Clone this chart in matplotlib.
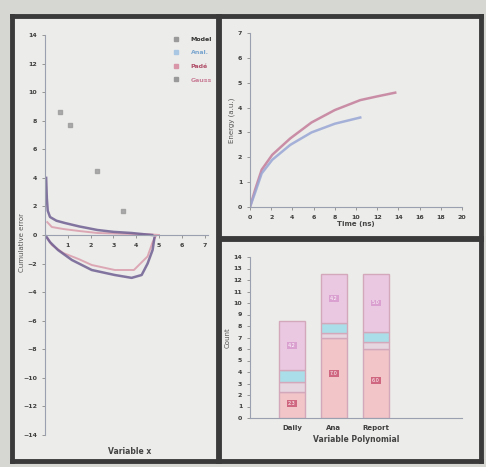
import numpy as np
import matplotlib
matplotlib.use('Agg')
from matplotlib import pyplot as plt
from matplotlib.ticker import MultipleLocator

# ---- left panel data ----
scatter_x = [0.65, 1.1, 2.26, 3.4]
scatter_y = [8.6, 7.7, 4.5, 1.7]

upper_purple_x = [0.05, 0.08, 0.12, 0.22, 0.5, 0.87, 1.5, 2.3, 3.0, 3.8, 4.3, 4.7]
upper_purple_y = [4.0, 2.6, 1.7, 1.26, 1.0, 0.84, 0.6, 0.35, 0.22, 0.14, 0.06, 0.0]
upper_pink_x = [0.1, 0.3, 0.8, 1.5, 2.3, 3.2, 4.0, 4.6, 5.0]
upper_pink_y = [0.9, 0.56, 0.42, 0.28, 0.14, 0.1, 0.06, 0.04, 0.0]

lower_purple_x = [0.05, 0.22, 0.57, 1.18, 2.05, 3.06, 3.8, 4.24, 4.5, 4.72, 4.8]
lower_purple_y = [-0.1, -0.5, -1.05, -1.75, -2.45, -2.8, -3.0, -2.8, -2.0, -1.05, -0.2]
lower_pink_x = [0.1, 0.3, 0.8, 1.5, 2.05, 3.06, 3.9, 4.5, 4.72, 4.85]
lower_pink_y = [-0.2, -0.7, -1.26, -1.7, -2.1, -2.45, -2.45, -1.5, -0.5, -0.1]

legend_labels = ["Model", "Anal.", "Padé", "Gauss"]

# ---- top right data ----
pink_t = [0, 0.47, 1.1, 2.1, 3.8, 5.8, 8.0, 10.4, 12.0, 13.7]
pink_v = [0, 0.68, 1.5, 2.1, 2.76, 3.4, 3.9, 4.3, 4.45, 4.6]
blue_t = [0, 0.5, 1.1, 2.1, 3.8, 5.8, 8.0, 10.4]
blue_v = [0, 0.6, 1.35, 1.9, 2.5, 3.0, 3.35, 3.6]

# ---- bottom right data ----
categories = ["Daily", "Ana", "Report"]
seg1 = [2.3, 7.0, 6.0]
seg2 = [0.8, 0.4, 0.6]
seg3 = [1.1, 0.9, 0.9]
seg4 = [4.2, 4.2, 5.0]

W, H = 486, 467
fig = plt.figure(figsize=(W / 100, H / 100), dpi=100)
fig.patch.set_facecolor('#d6d6d3')


def px_axes(x0, y0, x1, y1, **kw):
    return fig.add_axes([x0 / W, 1 - y1 / H, (x1 - x0) / W, (y1 - y0) / H], **kw)


# panel frames
for box in [(12, 16, 218, 461), (219, 16, 481, 238), (219, 239, 481, 461)]:
    fr = px_axes(*box)
    fr.set_facecolor('#ececea')
    fr.set_xticks([])
    fr.set_yticks([])
    for s in fr.spines.values():
        s.set_linewidth(3.5)
        s.set_color('#3a3a3a')

tick_kw = dict(labelsize=4.5, labelcolor='#3f3f3f', color='#888888', length=2, width=0.6)
purple = '#6f5f92'
pink = '#d996a8'
grey = '#9a9a9a'
lblue = '#a9c6e2'


def style_ticks(a):
    a.tick_params(**tick_kw)
    for lab in a.get_xticklabels() + a.get_yticklabels():
        lab.set_fontweight('bold')


# ---------- left panel ----------
ax = px_axes(45, 35, 208, 435)
ax.patch.set_alpha(0)
ax.set_xlim(0, 7.15)
ax.set_ylim(-14, 14)
ax.spines['left'].set_position(('data', 0))
ax.spines['bottom'].set_position(('data', 0))
ax.spines['top'].set_visible(False)
ax.spines['right'].set_visible(False)
for s in ['left', 'bottom']:
    ax.spines[s].set_color('#9aa0b0')
    ax.spines[s].set_linewidth(0.8)
ax.set_yticks(np.arange(-14, 15, 2))
ax.set_xticks(np.arange(1, 8))
style_ticks(ax)
ax.tick_params(axis='x', pad=4)

ax.plot(upper_pink_x, upper_pink_y, color=pink, lw=1.4, alpha=0.8)
ax.plot(lower_pink_x, lower_pink_y, color=pink, lw=1.4, alpha=0.8)
ax.plot(upper_purple_x, upper_purple_y, color=purple, lw=1.8, alpha=0.85)
ax.plot(lower_purple_x, lower_purple_y, color=purple, lw=1.8, alpha=0.85)
ax.scatter(scatter_x, scatter_y, marker='s', s=12, color=grey, alpha=0.8, zorder=3)
ax.set_xlabel("Variable x", fontsize=5.5, color='#444444', fontweight='bold')
ax.xaxis.set_label_coords(0.52, -0.03)
ax.set_ylabel("Cumulative error", fontsize=5, color='#555555')
ax.yaxis.set_label_coords(-0.12, 0.48)

handles = [
    plt.Line2D([], [], marker='s', ls='', color=grey, ms=3),
    plt.Line2D([], [], marker='s', ls='', color=lblue, ms=3),
    plt.Line2D([], [], marker='s', ls='', color=pink, ms=3),
    plt.Line2D([], [], marker='s', ls='', color=grey, ms=3),
]
leg = ax.legend(handles, legend_labels, loc='upper right', bbox_to_anchor=(1.06, 1.01),
                fontsize=4.5, frameon=False, handletextpad=1.4, labelspacing=1.3)
for t, c in zip(leg.get_texts(), ['#333333', '#7aa6cf', '#b0506a', '#c97f98']):
    t.set_color(c)
    t.set_fontweight('bold')

# ---------- top right panel ----------
ax2 = px_axes(250, 33, 462, 207)
ax2.patch.set_alpha(0)
ax2.set_xlim(0, 20)
ax2.set_ylim(0, 7)
ax2.spines['top'].set_visible(False)
ax2.spines['right'].set_visible(False)
for s in ['left', 'bottom']:
    ax2.spines[s].set_color('#9aa0b0')
    ax2.spines[s].set_linewidth(0.8)
ax2.xaxis.set_major_locator(MultipleLocator(2))
ax2.yaxis.set_major_locator(MultipleLocator(1))
style_ticks(ax2)
ax2.plot(pink_t, pink_v, color='#c47d9a', lw=1.8, alpha=0.85)
ax2.plot(blue_t, blue_v, color='#98a6d4', lw=1.8, alpha=0.85)
ax2.set_xlabel("Time (ns)", fontsize=5, color='#444444', labelpad=1, fontweight='bold')
ax2.set_ylabel("Energy (a.u.)", fontsize=5, color='#555555', labelpad=2)

# ---------- bottom right panel ----------
ax3 = px_axes(250, 257, 462, 418)
ax3.patch.set_alpha(0)
ax3.set_xlim(0, 5.05)
ax3.set_ylim(0, 14)
ax3.spines['top'].set_visible(False)
ax3.spines['right'].set_visible(False)
for s in ['left', 'bottom']:
    ax3.spines[s].set_color('#9aa0b0')
    ax3.spines[s].set_linewidth(0.8)
ax3.yaxis.set_major_locator(MultipleLocator(1))
pos = np.arange(1, len(categories) + 1)
ax3.set_xticks(pos)
ax3.set_xticklabels(categories)
style_ticks(ax3)
ax3.tick_params(axis='x', labelsize=5, length=0, pad=5)

bottom = np.zeros(len(categories))
for seg, col in zip([seg1, seg2, seg3, seg4], ['#f2c6c8', '#e6d6df', '#aadfe9', '#ebc8e2']):
    ax3.bar(pos, seg, bottom=bottom, width=0.62, color=col,
            edgecolor='#d3a8bb', linewidth=1.0)
    bottom += np.array(seg)

b1 = np.array(seg1)
for i in range(len(categories)):
    ax3.text(pos[i], b1[i] * 0.55, f"{b1[i]:.1f}", fontsize=3.5, color='#ffffff',
             ha='center', va='center',
             bbox=dict(boxstyle='square,pad=0.2', fc='#c8506e', ec='none', alpha=0.8))
    top_mid = bottom[i] - seg4[i] / 2
    ax3.text(pos[i], top_mid, f"{seg4[i]:.1f}", fontsize=3.5, color='#ffffff',
             ha='center', va='center',
             bbox=dict(boxstyle='square,pad=0.2', fc='#d490c8', ec='none', alpha=0.7))
ax3.set_xlabel("Variable Polynomial", fontsize=5.5, color='#444444', labelpad=3,
               fontweight='bold')
ax3.set_ylabel("Count", fontsize=5, color='#555555', labelpad=2)

plt.savefig("out.png", dpi=100, facecolor=fig.get_facecolor())
